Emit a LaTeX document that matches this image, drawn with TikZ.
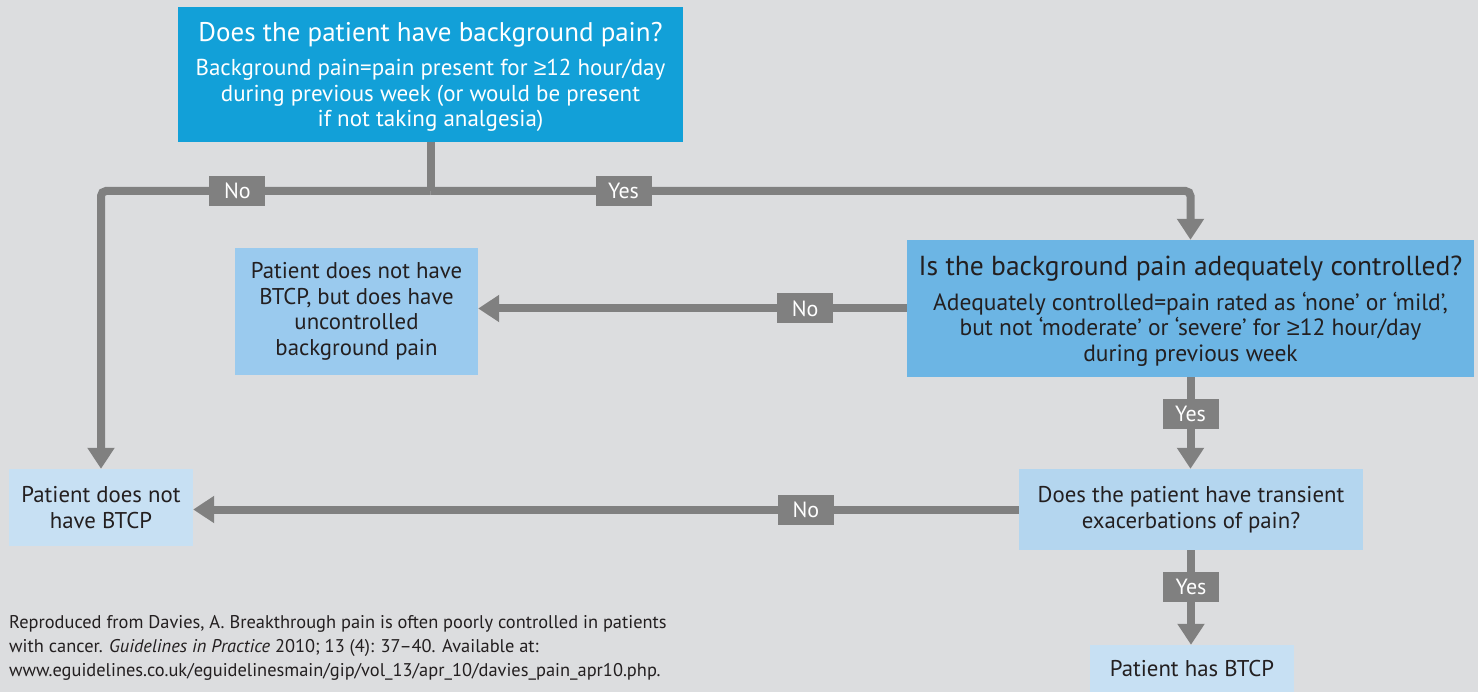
\documentclass[tikz,border=0pt]{standalone}
\usepackage{fontspec}
\setmainfont{PT Sans}
\newfontfamily\symfont{Liberation Sans}
\newcommand{\gesym}{{\symfont ≥}}
\usetikzlibrary{arrows.meta}
\definecolor{bgGrey}{HTML}{DCDDDF}
\definecolor{lineGrey}{HTML}{808080}
\definecolor{qBlue}{HTML}{12A0D8}
\definecolor{midBlue}{HTML}{6CB5E4}
\definecolor{softBlue}{HTML}{9ACAEE}
\definecolor{paleBlue}{HTML}{B4D6EF}
\definecolor{endBlue}{HTML}{C7E0F3}
\definecolor{inkDark}{HTML}{231F20}
\begin{document}
\begin{tikzpicture}[x=1pt, y=-1pt,
  qbox/.style={inner sep=0pt, align=center, text=inkDark, font=\fontsize{22.8}{25.5}\selectfont},
  flow/.style={draw=lineGrey, line width=8pt, rounded corners=5pt},
  arrowhd/.style={-{Triangle[width=26pt,length=21pt]}},
  lbl/.style={fill=lineGrey, text=white, sharp corners, inner sep=0pt, minimum width=56pt, minimum height=30pt, font=\fontsize{22}{24}\selectfont}]
\fill[bgGrey] (0,0) rectangle (1478,692);
\useasboundingbox (0,0) rectangle (1478,692);
\node[qbox, fill=qBlue, text=white, minimum width=505pt, minimum height=135pt, text depth=0pt, font=\fontsize{23}{25.5}\selectfont] (bgq) at (430.5,74.5) {{\fontsize{27}{30}\selectfont Does the patient have background pain?}\\[9pt]Background pain=pain present for \gesym12 hour/day\\during previous week (or would be present\\if not taking analgesia)};
\node[qbox, fill=midBlue, minimum width=567pt, minimum height=137pt, text depth=0pt, font=\fontsize{23.5}{25.5}\selectfont] (ctrl) at (1190.5,308.5) {{\fontsize{27.5}{30}\selectfont Is the background pain adequately controlled?}\\[9.5pt]Adequately controlled=pain rated as ‘none’ or ‘mild’,\\but not ‘moderate’ or ‘severe’ for \gesym12 hour/day\\during previous week};
\node[qbox, fill=softBlue, minimum width=243pt, minimum height=127pt] (bgUnc) at (356.5,311.5) {Patient does not have\\BTCP, but does have\\uncontrolled\\background pain};
\node[qbox, fill=paleBlue, minimum width=344pt, minimum height=81pt] (trans) at (1191,509.5) {Does the patient have transient\\exacerbations of pain?};
\node[qbox, fill=endBlue, minimum width=184pt, minimum height=77pt] (noBTCP) at (101,507.5) {Patient does not\\have BTCP};
\node[qbox, fill=endBlue, minimum width=204pt, minimum height=47pt] (hasBTCP) at (1192,668.5) {Patient has BTCP};
\node[inner sep=0pt, anchor=north west, align=left, text=inkDark, font=\fontsize{18.4}{24}\selectfont] (source) at (9,615) {Reproduced from Davies, A. Breakthrough pain is often poorly controlled in patients\\with cancer. \emph{Guidelines in Practice} 2010; 13 (4): 37–40. Available at:\\www.eguidelines.co.uk/eguidelinesmain/gip/vol\_13/apr\_10/davies\_pain\_apr10.php.};
\coordinate (split) at (430.5,191);
\draw[flow] (bgq.south) -- (split);
\draw[flow, arrowhd] (split) -| node[lbl, pos=0.293] {No} (noBTCP.north);
\draw[flow, arrowhd] (split) -| node[lbl, pos=0.127] {Yes} (ctrl.north);
\draw[flow, arrowhd] (ctrl.west) -- node[lbl, pos=0.237] {No} (ctrl.west -| bgUnc.east);
\draw[flow, arrowhd] (ctrl.south) -- node[lbl, pos=0.397] {Yes} (ctrl.south |- trans.north);
\draw[flow, arrowhd] (trans.west) -- node[lbl, pos=0.258] {No} (trans.west -| noBTCP.east);
\draw[flow, arrowhd] (trans.south) -- node[lbl, pos=0.384] {Yes} (trans.south |- hasBTCP.north);
\end{tikzpicture}
\end{document}
